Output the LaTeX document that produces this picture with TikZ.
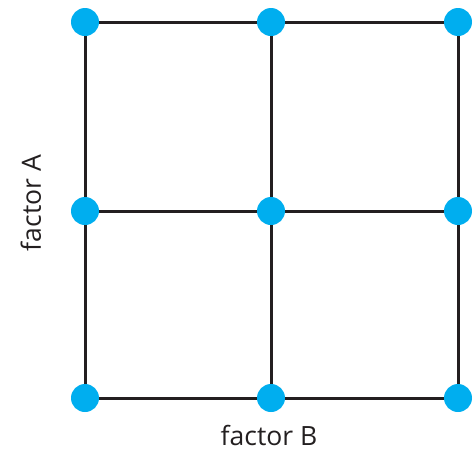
\documentclass[tikz,border=0pt]{standalone}
\usepackage{fontspec}
\setmainfont{Open Sans}
\usetikzlibrary{positioning}
\definecolor{dotblue}{RGB}{0,174,239}
\definecolor{linegray}{RGB}{35,31,32}
\tikzset{
  dot/.style={circle, fill=dotblue, inner sep=0pt, minimum size=28pt},
  gridline/.style={line width=3pt, linegray},
  factorlabel/.style={font=\fontsize{26.5}{31}\selectfont, text=linegray, inner sep=0pt}
}
\begin{document}
\begin{tikzpicture}[x=1pt,y=-1pt]
\useasboundingbox (0,0) rectangle (475,453);

% dots
\foreach \i/\x in {0/85,1/271,2/458}
  \foreach \j/\y in {0/22,1/211,2/398}
    \node [dot] (d\i\j) at (\x,\y) {};

% grid lines
\foreach \j in {0,1,2} {
  \draw [gridline] (d0\j) -- (d1\j);
  \draw [gridline] (d1\j) -- (d2\j);
}
\foreach \i in {0,1,2} {
  \draw [gridline] (d\i0) -- (d\i1);
  \draw [gridline] (d\i1) -- (d\i2);
}

% axis labels
\node [factorlabel, rotate=90, anchor=base] (facA) at (41,203) {factor A};
\node [factorlabel, anchor=base] (facB) at (269,445) {factor B};

\end{tikzpicture}
\end{document}
